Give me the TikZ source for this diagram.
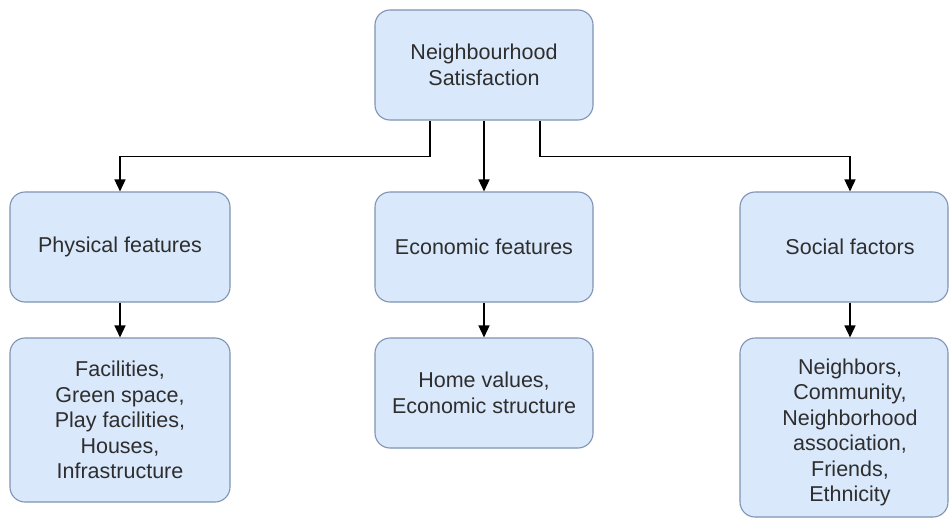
\documentclass[tikz,border=0pt]{standalone}
\usepackage{fontspec}
\setmainfont{Liberation Sans}
\usetikzlibrary{arrows.meta}
\definecolor{boxfill}{HTML}{DAE8FC}
\definecolor{boxdraw}{HTML}{7F93B2}
\definecolor{txt}{HTML}{2E2E2E}
\tikzset{
  box/.style={draw=boxdraw, fill=boxfill, line width=1.1pt, rounded corners=15pt,
    rectangle, align=center, text=txt, inner sep=0pt,
    font=\fontsize{21.5}{25.5}\selectfont},
  arr/.style={draw=black, line width=1.5pt, -{Triangle[length=12pt,width=11pt]}}
}
\begin{document}
\begin{tikzpicture}[x=1pt,y=-1pt]
\useasboundingbox (0,0) rectangle (949,519);
\fill[white] (0,0) rectangle (949,519);
\node[box, minimum width=218pt, minimum height=110pt] (top) at (484,65) {Neighbourhood\\Satisfaction};
\node[box, minimum width=220pt, minimum height=110pt] (phys) at (120,247) {Physical features};
\node[box, minimum width=218pt, minimum height=110pt] (econ) at (484,247) {Economic features};
\node[box, minimum width=208pt, minimum height=110pt] (soc) at (844,247) {\hspace*{12pt}Social factors};
\node[box, minimum width=220pt, minimum height=164pt] (fac) at (120,420) {Facilities,\\Green space,\\Play facilities,\\Houses,\\Infrastructure};
\node[box, minimum width=208pt, minimum height=179pt] (nb) at (844,427.5) {};
\node[align=center, text=txt, inner sep=0pt, font=\fontsize{21.5}{25.5}\selectfont] (nbtext) at (850,432.5) {Neighbors,\\Community,\\Neighborhood\\association,\\Friends,\\Ethnicity};
\node[box, minimum width=218pt, minimum height=110pt] (home) at (484,393) {Home values,\\Economic structure};
\draw[arr] ([xshift=-54pt]top.south) -- ++(0,36) -| (phys.north);
\draw[arr] (top.south) -- (econ.north);
\draw[arr] ([xshift=56pt]top.south) -- ++(0,36) -| ([xshift=6pt]soc.north);
\draw[arr] (phys.south) -- (fac.north);
\draw[arr] (econ.south) -- (home.north);
\draw[arr] ([xshift=6pt]soc.south) -- ([xshift=6pt]nb.north);
\end{tikzpicture}
\end{document}
